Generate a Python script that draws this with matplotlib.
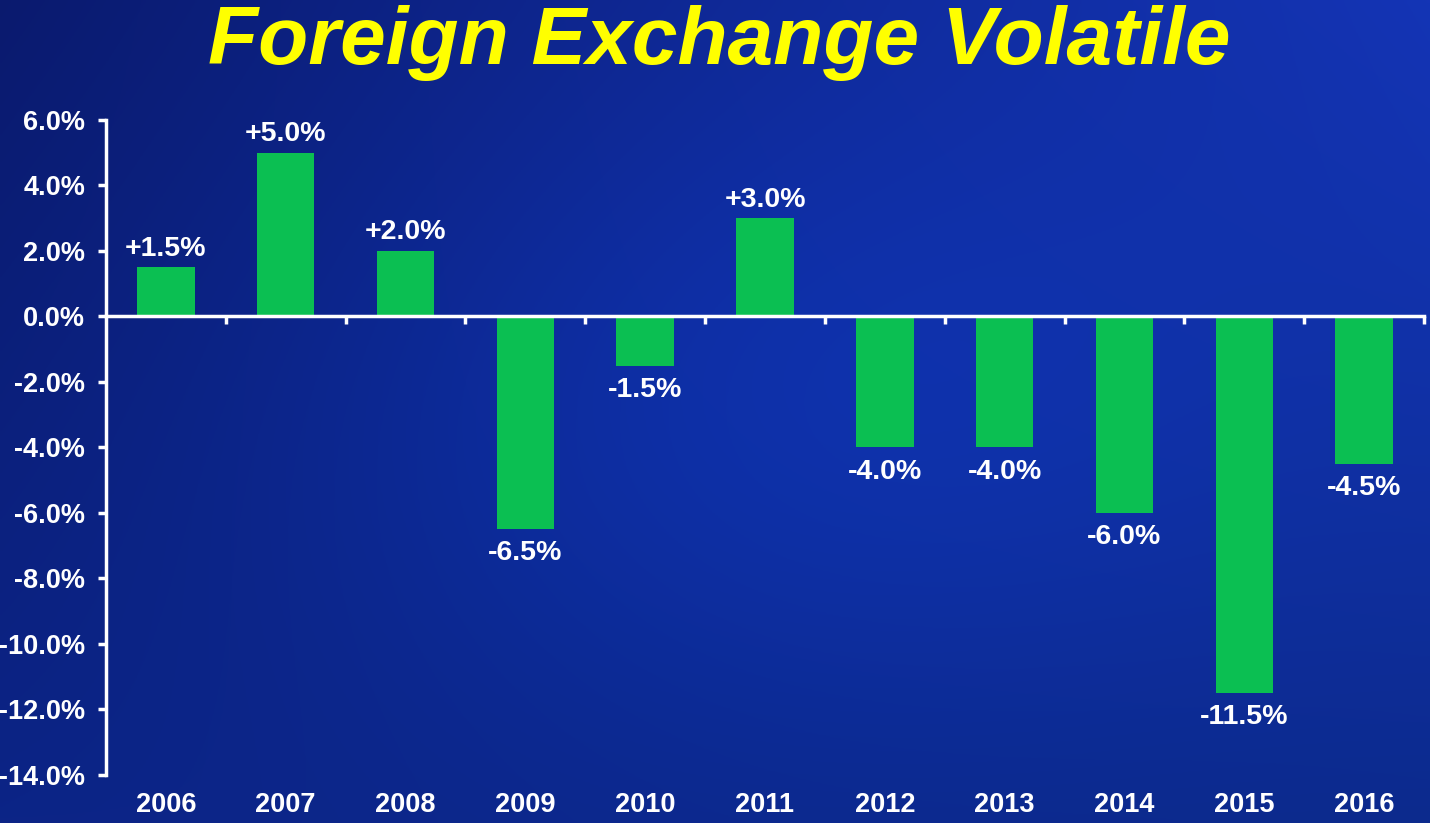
import matplotlib

matplotlib.use("Agg")
import matplotlib.pyplot as plt
import matplotlib.transforms as mtransforms
import numpy as np

# Datos
anios = ["2006", "2007", "2008", "2009", "2010", "2011",
         "2012", "2013", "2014", "2015", "2016"]
variacion = [1.5, 5.0, 2.0, -6.5, -1.5, 3.0, -4.0, -4.0, -6.0, -11.5, -4.5]
ticks_y = [6, 4, 2, 0, -2, -4, -6, -8, -10, -12, -14]

TITULO = "Foreign Exchange Volatile"
VERDE = "#0BBF52"
AMARILLO = "#FFFF00"
FUENTE = "Liberation Sans"


def hex_rgb(h):
    return np.array([int(h[i:i + 2], 16) for i in (1, 3, 5)]) / 255


fig = plt.figure(figsize=(14.3, 8.23), dpi=100)

# Fondo degradado azul: esquina sup. izq. oscura, sup. der. brillante
fondo = fig.add_axes([0, 0, 1, 1], zorder=0)
yy, xx = np.mgrid[0:1:300j, 0:1:500j]  # yy=1 arriba (origin lower)
sup_izq, sup_der = hex_rgb("#0A1A6E"), hex_rgb("#1434B4")
inf_izq, inf_der = hex_rgb("#0C2486"), hex_rgb("#0C2A8C")
X, Y = xx[..., None], yy[..., None]
img = (sup_izq * (1 - X) * Y + sup_der * X * Y
       + inf_izq * (1 - X) * (1 - Y) + inf_der * X * (1 - Y))
base_centro = (sup_izq + sup_der + inf_izq + inf_der) / 4
bulto = np.exp(-(((xx - 0.55) / 0.35) ** 2 + ((yy - 0.5) / 0.4) ** 2))[..., None]
img = np.clip(img + bulto * (hex_rgb("#0E30A8") - base_centro), 0, 1)
fondo.imshow(img, extent=[0, 1, 0, 1], aspect="auto", origin="lower")
fondo.axis("off")

ax = fig.add_axes([106 / 1430, 1 - 775 / 823, 1318 / 1430, 655 / 823], zorder=1)
ax.patch.set_alpha(0)

x = np.arange(len(anios))
barras = ax.bar(x, variacion, width=0.48, color=VERDE, zorder=2)

ax.set_xlim(-0.5, len(anios) - 0.5)
ax.set_ylim(-14, 6)

for s in ["top", "right"]:
    ax.spines[s].set_visible(False)
ax.spines["bottom"].set_position(("data", 0))
for s in ["left", "bottom"]:
    ax.spines[s].set_color("white")
    ax.spines[s].set_linewidth(2.5)
    ax.spines[s].set_zorder(3)

ax.set_yticks(ticks_y)
ax.set_yticklabels([f"{v:.1f}%" for v in ticks_y])
ax.tick_params(axis="y", colors="white", direction="out", length=6, width=2.5,
               labelsize=19.5, pad=9)
for lab in ax.get_yticklabels():
    lab.set_fontweight("bold")
    lab.set_fontfamily(FUENTE)

ax.set_xticks(np.append(x[:-1] + 0.5, len(anios) - 0.5))
ax.set_xticklabels([])
ax.tick_params(axis="x", colors="white", direction="out", length=6, width=2.5)

# Etiquetas de anios al pie del eje
trans = mtransforms.blended_transform_factory(ax.transData, ax.transAxes)
for xi, anio in zip(x, anios):
    ax.text(xi, -0.046, anio, transform=trans, ha="center", va="center",
            color="white", fontsize=19.5, fontweight="bold", family=FUENTE)

# Valores sobre / bajo cada barra
for barra, v in zip(barras, variacion):
    txt = f"+{v:.1f}%" if v > 0 else f"{v:.1f}%"
    desplaz = 4 if v > 0 else -8
    ax.annotate(txt, (barra.get_x() + barra.get_width() / 2, v),
                xytext=(0, desplaz), textcoords="offset points",
                ha="center", va="bottom" if v > 0 else "top",
                color="white", fontsize=20.5, fontweight="bold", family=FUENTE,
                zorder=4)

fig.text(0.503, 1 - 43 / 823, TITULO, ha="center", va="center", color=AMARILLO,
         fontsize=59, fontweight="bold", fontstyle="italic", family=FUENTE)

fig.savefig("out.png", dpi=100)
